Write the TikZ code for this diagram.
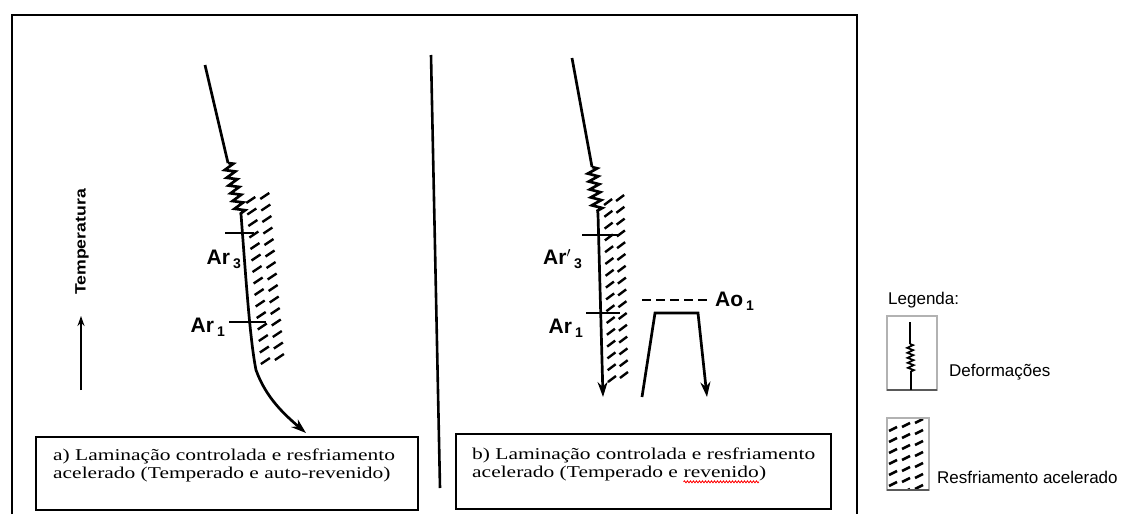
\documentclass[tikz,border=0pt]{standalone}
\usepackage{fontspec}
\setmainfont{Liberation Serif}
\newfontfamily\capfont[FakeStretch=1.3]{Liberation Serif}
\newfontfamily\labfont{Liberation Sans}
\newfontfamily\tempfont[FakeStretch=1.18]{Liberation Sans}
\usetikzlibrary{arrows.meta,decorations.pathmorphing,calc}
\newcommand\arsub[1]{\hspace{3pt}\raisebox{-4pt}{\fontsize{14}{14}\selectfont #1}}
\begin{document}
\begin{tikzpicture}[x=1pt,y=-1pt,
  frame/.style={line width=1.8pt},
  curve/.style={line width=2.7pt},
  zz/.style={decorate,decoration={zigzag,segment length=8pt,amplitude=5pt}},
  hatchline/.style={line width=2.4pt},
  tip/.style={-{Stealth[length=15pt,width=10pt]}},
  capbox/.style={draw,line width=1.6pt,anchor=north west,inner sep=0},
  captext/.style={font=\capfont\fontsize{16.5}{18}\selectfont,align=left,anchor=north west,inner sep=0},
  capword/.style={font=\capfont\fontsize{16.5}{18}\selectfont,anchor=base west,inner sep=0},
  arlab/.style={font=\labfont\bfseries\fontsize{21}{21}\selectfont,inner sep=0},
  legtext/.style={font=\labfont\fontsize{17}{17}\selectfont,inner sep=0,anchor=west},
  legbox/.style={draw=gray!60,line width=1.2pt}
]
\useasboundingbox (0,0) rectangle (1126,514);

% outer frame and divider
\coordinate (f0) at (12,514);
\coordinate (f1) at (12,15);
\coordinate (f2) at (857,15);
\coordinate (f3) at (857,514);
\draw[frame] (f0) -- (f1) -- (f2) -- (f3);
\coordinate (d0) at (431,55);
\coordinate (d1) at (440,488);
\draw[line width=2.6pt] (d0) -- (d1);

% ---------- panel a ----------
\coordinate (ta0) at (81,390);
\coordinate (ta1) at (81,316);
\draw[line width=2pt,-{Stealth[length=10pt,width=7pt]}] (ta0) -- (ta1);
\node[rotate=90,font=\tempfont\bfseries\fontsize{15}{15}\selectfont,inner sep=0] (templab) at (82,242) {Temperatura};

\foreach \i in {0,...,14}{
  \pgfmathsetmacro\yy{203+11.5*\i}
  \pgfmathsetmacro\xc{241+(\yy-200)*15/165}
  \draw[hatchline] (\xc+5,\yy) -- ++(9,-6);
  \draw[hatchline] (\xc+19,\yy-4) -- ++(9,-6);
}

\coordinate (a0) at (205,65);
\coordinate (a1) at (228,163);
\coordinate (a2) at (241,214);
\coordinate (a3) at (256,370);
\coordinate (a4) at (306,433);
\draw[curve] (a0) -- (a1);
\draw[curve,zz] (a1) -- (a2);
\draw[curve,tip] (a2) .. controls (246,280) and (250,340) .. (a3)
  .. controls (266,398) and (285,415) .. (a4);

\coordinate (ar3a0) at (225,233);
\coordinate (ar3a1) at (254,233);
\draw[line width=1.8pt] (ar3a0) -- (ar3a1);
\node[arlab,anchor=east] (ar3a) at (241,259) {Ar\arsub{3}};
\coordinate (ar1a0) at (229,322);
\coordinate (ar1a1) at (266,322);
\draw[line width=1.8pt] (ar1a0) -- (ar1a1);
\node[arlab,anchor=east] (ar1a) at (225,327) {Ar\arsub{1}};

\node[capbox,minimum width=382pt,minimum height=73pt] (capa) at (35,436) {};
\node[captext] (capatext) at ($(capa.north west)+(18,13)$)
  {a) Laminação controlada e resfriamento\\acelerado (Temperado e auto-revenido)};

% ---------- panel b ----------
\foreach \i in {0,...,15}{
  \pgfmathsetmacro\yy{205+11.8*\i}
  \pgfmathsetmacro\xc{599+(\yy-200)*4/185}
  \draw[hatchline] (\xc+5,\yy) -- ++(8,-6);
  \draw[hatchline] (\xc+17,\yy-4) -- ++(8,-6);
}

\coordinate (b0) at (572,58);
\coordinate (b1) at (592,167);
\coordinate (b2) at (598,214);
\coordinate (b3) at (603,397);
\draw[curve] (b0) -- (b1);
\draw[curve,zz] (b1) -- (b2);
\draw[curve,tip] (b2) -- (b3);

\coordinate (ar3b0) at (582,235);
\coordinate (ar3b1) at (618,235);
\draw[line width=1.8pt] (ar3b0) -- (ar3b1);
\node[arlab,anchor=east] (ar3b) at (582,259) {Ar$'$\arsub{3}};
\coordinate (ar1b0) at (586,313);
\coordinate (ar1b1) at (620,313);
\draw[line width=1.8pt] (ar1b0) -- (ar1b1);
\node[arlab,anchor=east] (ar1b) at (583,328) {Ar\arsub{1}};

\node[arlab,anchor=west] (ao) at (715,301) {Ao\arsub{1}};
\coordinate (ao0) at (642,300);
\draw[line width=2.2pt,dash pattern=on 9pt off 5pt] (ao0) -- ($(ao.west)+(-8,-1)$);

\coordinate (t0) at (642,397);
\coordinate (t1) at (655,313);
\coordinate (t2) at (698,313);
\coordinate (t3) at (707,397);
\draw[curve,tip] (t0) -- (t1) -- (t2) -- (t3);

\node[capbox,minimum width=375pt,minimum height=75pt] (capb) at (455,433) {};
\node[captext] (capbtext) at ($(capb.north west)+(17,15)$)
  {b) Laminação controlada e resfriamento};
\node[capword] (capb2) at ($(capbtext.base west)+(0,18)$) {acelerado (Temperado e};
\node[capword] (capb3) at ($(capb2.base east)+(5.4,0)$) {revenido};
\node[capword] (capb4) at (capb3.base east) {)};
\draw[red,line width=0.8pt,decorate,decoration={snake,segment length=3pt,amplitude=1pt}]
  ($(capb3.base west)+(0,4)$) -- ($(capb3.base east)+(0,4)$);

% ---------- legend ----------
\node[legtext] (leg) at (888,300) {Legenda:};
\draw[legbox] (887,316) rectangle (937,390);
\draw[line width=1.8pt,gray!70!black] (887,390) -- (937,390);
\coordinate (l0) at (910,322);
\coordinate (l1) at (910,344);
\coordinate (l2) at (911,372);
\coordinate (l3) at (911,390);
\draw[line width=2pt] (l0) -- (l1);
\draw[line width=1.7pt,decorate,decoration={zigzag,segment length=5pt,amplitude=3pt}] (l1) -- (l2);
\draw[line width=2pt] (l2) -- (l3);
\node[legtext] (def) at (949,372) {Deformações};

\draw[legbox] (887,418) rectangle (929,490);
\begin{scope}
  \clip (888,419) rectangle (928,489);
  \foreach \r in {0,...,6}{
    \foreach \c in {0,1,2}{
      \draw[line width=2.5pt] (889+13*\c,431+11*\r-4*\c) -- ++(8,-4);
    }
  }
\end{scope}
\draw[line width=1.8pt,gray!70!black] (887,490) -- (929,490);
\node[legtext] (resf) at (937,477) {Resfriamento acelerado};
\end{tikzpicture}
\end{document}
